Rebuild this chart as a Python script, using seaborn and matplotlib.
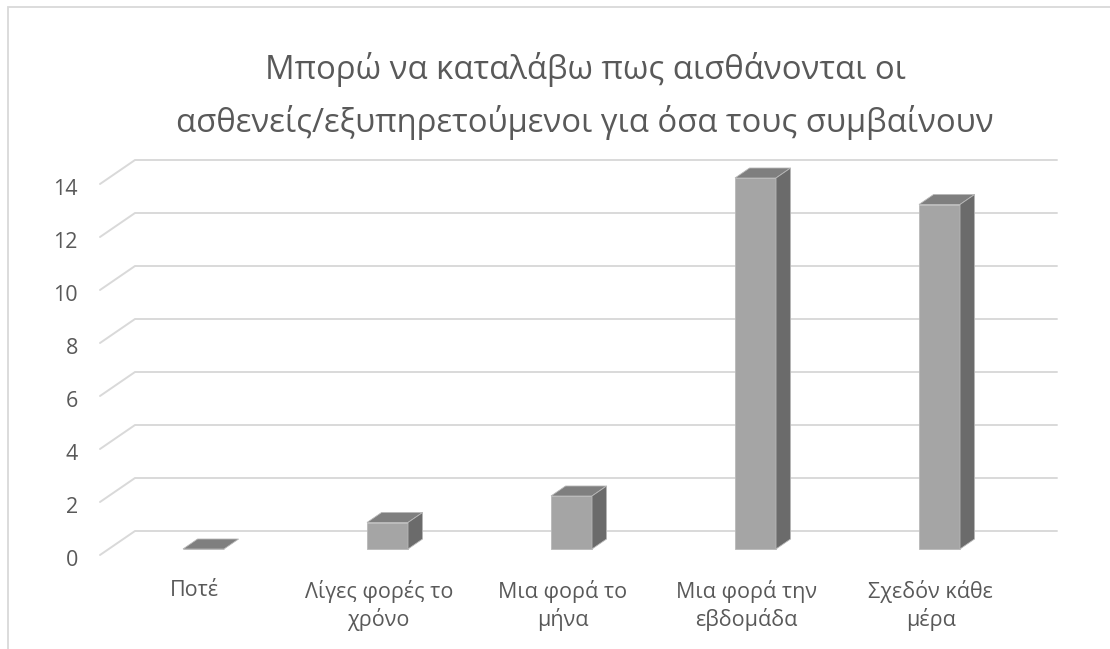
import matplotlib
matplotlib.use("Agg")
import matplotlib.pyplot as plt
import matplotlib.transforms as mtransforms
from matplotlib.patches import Polygon, Rectangle
import seaborn as sns

# ---- data ----
categories = ["Ποτέ", "Λίγες φορές το\nχρόνο", "Μια φορά το\nμήνα",
              "Μια φορά την\nεβδομάδα", "Σχεδόν κάθε\nμέρα"]
values = [0, 1, 2, 14, 13]
y_ticks = [0, 2, 4, 6, 8, 10, 12, 14]
title = "Μπορώ να καταλάβω πως αισθάνονται οι\nασθενείς/εξυπηρετούμενοι για όσα τους συμβαίνουν"

# ---- style ----
FRONT = "#a5a5a5"
TOP = "#7f7f7f"
SIDE = "#6b6b6b"
EDGE = "#b8b8b8"
GRID = "#d9d9d9"
TEXT = "#595959"
FONT = ["Open Sans", "DejaVu Sans"]

W, H, DPI = 1110, 649, 100
sns.set_theme(style="white")
plt.rcParams["font.family"] = FONT

fig = plt.figure(figsize=(W / DPI, H / DPI), dpi=DPI)
fig.patch.set_facecolor("white")

# axes box in pixels (left, top, right, bottom)
AX_L, AX_T, AX_R, AX_B = 100, 140, 1060, 565
ax = fig.add_axes([AX_L / W, 1 - AX_B / H, (AX_R - AX_L) / W, (AX_B - AX_T) / H])

# pixel scale of the data axes
PX_X = 184.0          # pixels per category step
PX_Y = 26.5           # pixels per value unit
X0_PX = 203.5         # pixel x of first bar's front face centre
Y0_PX = 549.0         # pixel y of value 0 on bar front faces
xlim = ((AX_L - X0_PX) / PX_X, (AX_R - X0_PX) / PX_X)
ylim = ((Y0_PX - AX_B) / PX_Y, (Y0_PX - AX_T) / PX_Y)

def dx(px):
    return px / PX_X

def dy(px):
    return px / PX_Y

# perspective: full floor depth shifts 35px right and 24px up
DEPTH_X, DEPTH_Y = 35.0, 24.0
BAR_FRONT_D = 6.0 / 24.0     # bar front face depth
BAR_BACK_D = 16.0 / 24.0     # bar back face depth
bar_w = 41.0 / PX_X

# front faces
sns.barplot(x=list(range(len(values))), y=values, color=FRONT, width=bar_w,
            edgecolor=EDGE, linewidth=0.6, saturation=1, ax=ax, zorder=3,
            native_scale=True)

# top and side faces
ddx = dx((BAR_BACK_D - BAR_FRONT_D) * DEPTH_X)
ddy = dy((BAR_BACK_D - BAR_FRONT_D) * DEPTH_Y)
for i, v in enumerate(values):
    l, r = i - bar_w / 2, i + bar_w / 2
    top = [(l, v), (r, v), (r + ddx, v + ddy), (l + ddx, v + ddy)]
    ax.add_patch(Polygon(top, closed=True, facecolor=TOP, edgecolor=EDGE,
                         linewidth=0.6, zorder=4, clip_on=False))
    if v > 0:
        side = [(r, 0), (r + ddx, ddy), (r + ddx, v + ddy), (r, v)]
        ax.add_patch(Polygon(side, closed=True, facecolor=SIDE, edgecolor=EDGE,
                             linewidth=0.6, zorder=4, clip_on=False))

# gridlines: short diagonal on the floor edge, then along the back wall
x_front = xlim[0]
off_front_y = -dy(BAR_FRONT_D * DEPTH_Y)          # floor front relative to bar front
x_back = x_front + dx(DEPTH_X)
x_end = (1057 - X0_PX) / PX_X
for t in y_ticks:
    yf = t + off_front_y
    yb = yf + dy(DEPTH_Y)
    ax.plot([x_front, x_back, x_end], [yf, yb, yb], color=GRID, lw=1.4,
            zorder=1, clip_on=False, solid_joinstyle="miter")

ax.set_xlim(*xlim)
ax.set_ylim(*ylim)
for s in ax.spines.values():
    s.set_visible(False)
ax.grid(False)
ax.set_facecolor("none")

# tick labels
ax.set_yticks(y_ticks)
ax.set_yticklabels([str(t) for t in y_ticks])
ax.set_xticks(range(len(categories)))
ax.set_xticklabels(categories)
ax.tick_params(axis="both", length=0, colors=TEXT)
ax.tick_params(axis="y", pad=16, labelsize=15.5)
ax.tick_params(axis="x", pad=11, labelsize=15.5)
ax.set_xlabel("")
ax.set_ylabel("")

shift_y = mtransforms.ScaledTranslation(0, -(BAR_FRONT_D * DEPTH_Y + 3) / DPI, fig.dpi_scale_trans)
for lab in ax.get_yticklabels():
    lab.set_transform(lab.get_transform() + shift_y)
shift_x = mtransforms.ScaledTranslation(-BAR_FRONT_D * DEPTH_X / DPI, 0, fig.dpi_scale_trans)
for lab in ax.get_xticklabels():
    lab.set_transform(lab.get_transform() + shift_x)
    lab.set_linespacing(1.28)

# title
fig.text(585 / W, 1 - 96 / H, title, ha="center", va="center", fontsize=23.7,
         color=TEXT, linespacing=1.68)

# outer chart frame (top and left edges visible)
fig.patches.append(Rectangle((8 / W, -0.1), 1.2, (1 - 7 / H) + 0.1,
                             transform=fig.transFigure, fill=False,
                             edgecolor=GRID, lw=1.3))

fig.savefig("out.png", dpi=DPI)
